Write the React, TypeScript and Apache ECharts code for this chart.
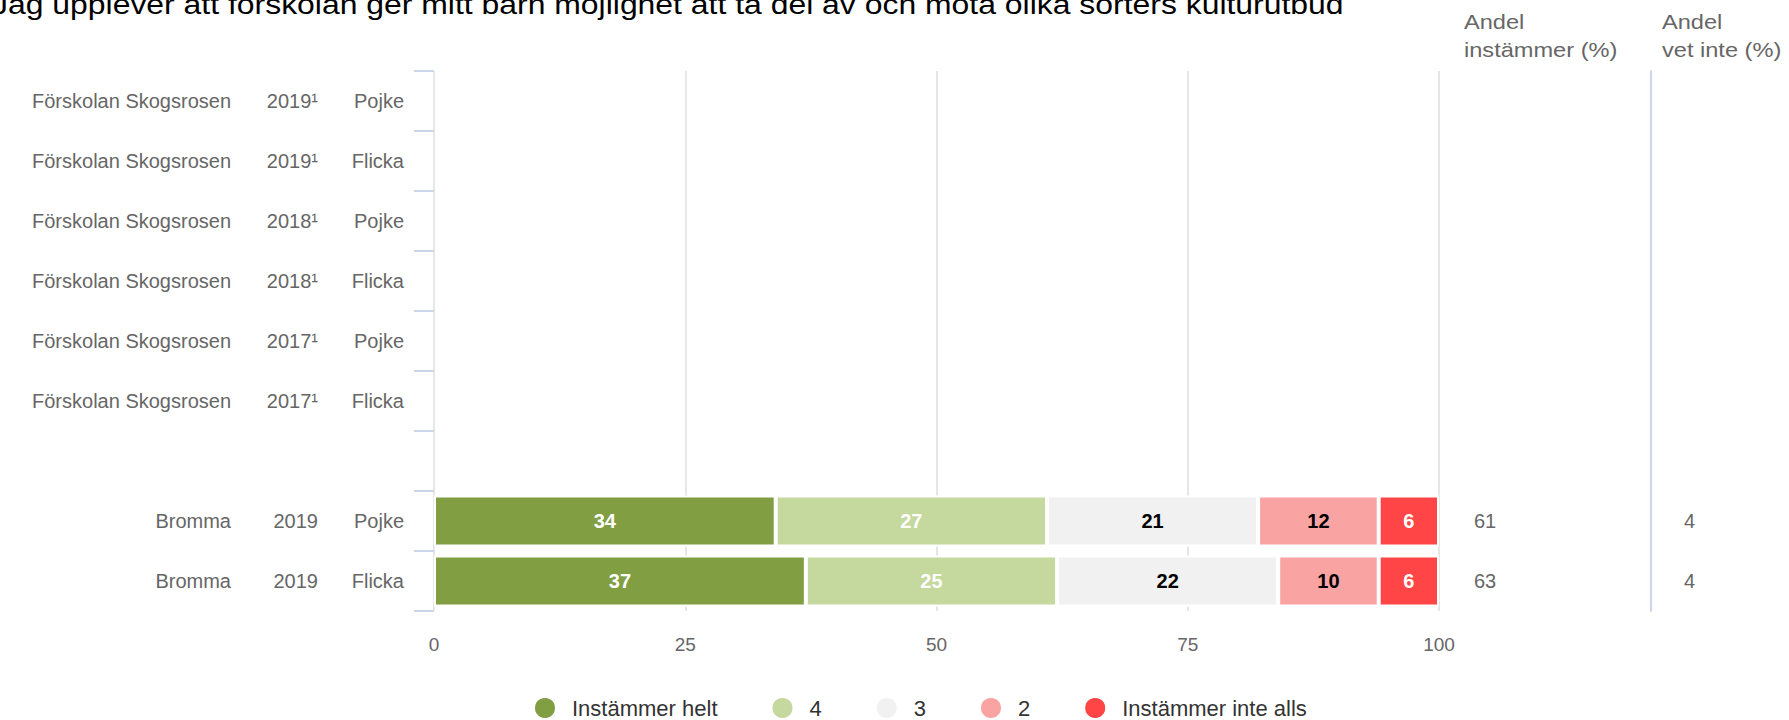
import React, { useEffect, useRef } from "react";
import * as echarts from "echarts";

const titleText =
  "Jag upplever att förskolan ger mitt barn möjlighet att ta del av och möta olika sorters kulturutbud";
const units = [
  "Förskolan Skogsrosen",
  "Förskolan Skogsrosen",
  "Förskolan Skogsrosen",
  "Förskolan Skogsrosen",
  "Förskolan Skogsrosen",
  "Förskolan Skogsrosen",
  "",
  "Bromma",
  "Bromma",
];
const years = ["2019¹", "2019¹", "2018¹", "2018¹", "2017¹", "2017¹", "", "2019", "2019"];
const genders = ["Pojke", "Flicka", "Pojke", "Flicka", "Pojke", "Flicka", "", "Pojke", "Flicka"];
const seriesNames = ["Instämmer helt", "4", "3", "2", "Instämmer inte alls"];
const instammerHelt = [null, null, null, null, null, null, null, 34, 37];
const four = [null, null, null, null, null, null, null, 27, 25];
const three = [null, null, null, null, null, null, null, 21, 22];
const two = [null, null, null, null, null, null, null, 12, 10];
const instammerInteAlls = [null, null, null, null, null, null, null, 6, 6];
const andelInstammer = [null, null, null, null, null, null, null, 61, 63];
const andelVetInte = [null, null, null, null, null, null, null, 4, 4];
const xMin = 0;
const xMax = 100;
const xInterval = 25;
const header1 = ["Andel", "instämmer (%)"];
const header2 = ["Andel", "vet inte (%)"];

const colors = ["#819e43", "#c5d89d", "#f1f1f1", "#f9a3a3", "#ff4545"];
const labelColors = ["#ffffff", "#ffffff", "#000000", "#000000", "#ffffff"];
const FONT = '"Liberation Sans", Arial, sans-serif';

export default function App() {
  const ref = useRef<HTMLDivElement>(null);
  useEffect(() => {
    if (!ref.current) return;
    const chart = echarts.init(ref.current, null, { renderer: "svg" });
    const cats = units.map((_, i) => String(i));
    const values = [instammerHelt, four, three, two, instammerInteAlls];
    const headerText = (lines: string[], x: number) =>
      lines.map((t, i) => ({
        type: "text",
        x,
        y: 22 + i * 28,
        scaleX: 1.18,
        style: {
          text: t,
          font: `20px ${FONT}`,
          fill: "#666666",
          verticalAlign: "middle",
          align: "left",
        },
      }));
    chart.setOption({
      animation: false,
      textStyle: { fontFamily: FONT },
      graphic: [
        {
          type: "text",
          x: -8,
          y: 4,
          scaleX: 1.14,
          style: {
            text: titleText,
            font: `28px ${FONT}`,
            fill: "#000000",
            verticalAlign: "middle",
            align: "left",
          },
        },
        ...headerText(header1, 1464),
        ...headerText(header2, 1662),
      ],
      legend: {
        data: seriesNames,
        left: 528,
        top: 690,
        icon: "circle",
        itemWidth: 22,
        itemHeight: 22,
        itemGap: 53,
        textStyle: {
          fontSize: 22,
          lineHeight: 26,
          color: "#333333",
          fontFamily: FONT,
          padding: [0, 0, 0, 11],
        },
      },
      grid: { left: 434, right: 350, top: 71, height: 540 },
      xAxis: {
        type: "value",
        min: xMin,
        max: xMax,
        interval: xInterval,
        axisLine: { show: false },
        axisTick: { show: false },
        splitLine: { show: true, lineStyle: { color: "#e6e6e6", width: 2 } },
        axisLabel: { margin: 24, color: "#666666", fontSize: 19, fontFamily: FONT },
      },
      yAxis: [
        {
          type: "category",
          inverse: true,
          data: cats,
          axisLine: { show: false },
          axisTick: { show: true, length: 20, lineStyle: { color: "#ccd6eb", width: 2 } },
          axisLabel: {
            interval: 0,
            margin: 30,
            formatter: (_v: string, i: number) =>
              units[i] ? `{a|${units[i]}}{b|${years[i]}}{c|${genders[i]}}` : "",
            rich: {
              a: { width: 215, align: "right", fontSize: 20, color: "#666666", fontFamily: FONT },
              b: { width: 87, align: "right", fontSize: 20, color: "#666666", fontFamily: FONT },
              c: { width: 86, align: "right", fontSize: 20, color: "#666666", fontFamily: FONT },
            },
          },
        },
        {
          type: "category",
          inverse: true,
          position: "right",
          data: cats,
          axisLine: { show: false },
          axisTick: { show: false },
          axisLabel: {
            interval: 0,
            margin: 35,
            color: "#666666",
            fontSize: 20,
            fontFamily: FONT,
            formatter: (_v: string, i: number) =>
              andelInstammer[i] == null ? "" : String(andelInstammer[i]),
          },
        },
        {
          type: "category",
          inverse: true,
          position: "right",
          offset: 212,
          data: cats,
          axisLine: { show: true, lineStyle: { color: "#ccd6eb", width: 2 } },
          axisTick: { show: false },
          axisLabel: {
            interval: 0,
            margin: 33,
            color: "#666666",
            fontSize: 20,
            fontFamily: FONT,
            formatter: (_v: string, i: number) =>
              andelVetInte[i] == null ? "" : String(andelVetInte[i]),
          },
        },
      ],
      series: seriesNames.map((name, k) => ({
        name,
        type: "bar",
        stack: "total",
        yAxisIndex: 0,
        barCategoryGap: "15%",
        data: values[k],
        itemStyle: { color: colors[k], borderColor: "#ffffff", borderWidth: 2 },
        label: {
          show: true,
          position: "inside",
          color: labelColors[k],
          fontWeight: "bold",
          fontSize: 20,
          fontFamily: FONT,
        },
      })),
    });
    return () => chart.dispose();
  }, []);
  return (
    <div
      ref={ref}
      style={{ position: "fixed", left: 0, top: 0, width: 1789, height: 720, background: "#fff" }}
    />
  );
}
